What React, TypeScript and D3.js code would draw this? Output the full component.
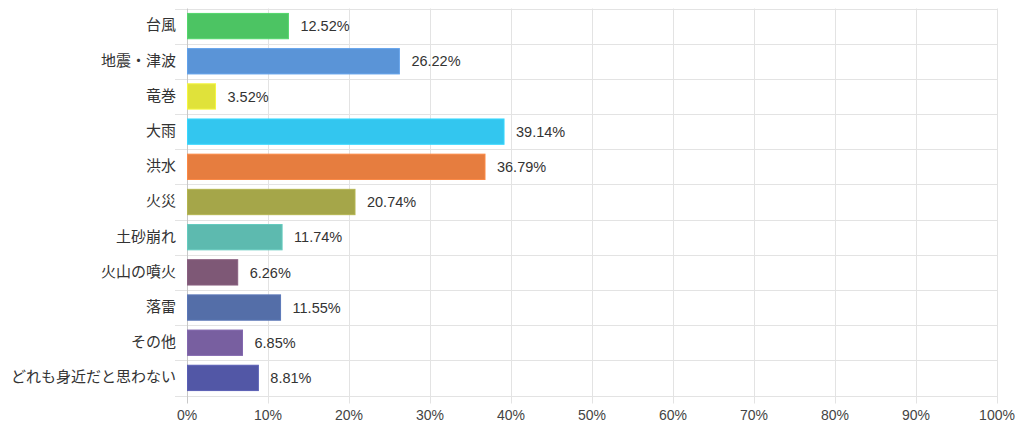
import React from "react";
import * as d3 from "d3";

const categories = [
  "台風",
  "地震・津波",
  "竜巻",
  "大雨",
  "洪水",
  "火災",
  "土砂崩れ",
  "火山の噴火",
  "落雷",
  "その他",
  "どれも身近だと思わない",
];
const values = [12.52, 26.22, 3.52, 39.14, 36.79, 20.74, 11.74, 6.26, 11.55, 6.85, 8.81];
const colors = [
  "#4cc463",
  "#5a94d7",
  "#e0e23a",
  "#33c6ef",
  "#e67d3f",
  "#a5a649",
  "#5dbaaf",
  "#7e5876",
  "#546ea8",
  "#785fa0",
  "#5257a6",
];
const xTicks = [0, 10, 20, 30, 40, 50, 60, 70, 80, 90, 100];

const W = 1024;
const H = 428;
const left = 187;
const right = 997;
const top = 8.5;
const bottom = 395.5;
const font = "'Liberation Sans', Arial, 'Noto Sans CJK JP', sans-serif";
const jpFont = "'Noto Sans CJK JP', 'Liberation Sans', sans-serif";

export default function App() {
  const x = d3.scaleLinear().domain([0, 100]).range([left, right]);
  const y = d3.scaleBand<string>().domain(categories).range([top, bottom]);
  const bw = y.bandwidth();
  const barH = bw * 0.72;
  const boundaries = categories.map((c) => y(c)!).concat([bottom]);

  return (
    <svg
      width={W}
      height={H}
      style={{ position: "absolute", left: 0, top: 0, background: "#fff" }}
    >
      {/* horizontal grid lines */}
      {boundaries.map((b, i) => (
        <line
          key={"h" + i}
          x1={left - 12}
          x2={right}
          y1={Math.round(b) + 0.5}
          y2={Math.round(b) + 0.5}
          stroke="#e3e3e3"
          strokeWidth={1}
        />
      ))}
      {/* vertical grid lines */}
      {xTicks.map((t) => (
        <line
          key={"v" + t}
          x1={Math.round(x(t)) + 0.5}
          x2={Math.round(x(t)) + 0.5}
          y1={top}
          y2={bottom + 8}
          stroke={t === 0 ? "#c8c8c8" : "#e3e3e3"}
          strokeWidth={1}
        />
      ))}
      {/* bars */}
      {categories.map((c, i) => {
        const yc = y(c)! + bw / 2;
        const w = x(values[i]) - x(0);
        return (
          <g key={c}>
            <rect
              x={x(0) + 0.5}
              y={yc - barH / 2}
              width={w - 0.5}
              height={barH}
              fill={colors[i]}
              stroke={d3.color(colors[i])!.brighter(0.25).formatHex()}
              strokeWidth={1}
            />
            <text
              x={x(values[i]) + 12}
              y={yc}
              dy="0.36em"
              fontFamily={font}
              fontSize={14.5}
              fill="#333"
            >
              {values[i].toFixed(2) + "%"}
            </text>
            <text
              x={left - 11}
              y={yc - 1}
              dy="0.36em"
              textAnchor="end"
              fontFamily={jpFont}
              fontSize={15}
              fill="#333"
            >
              {c}
            </text>
          </g>
        );
      })}
      {/* x tick labels */}
      {xTicks.map((t) => (
        <text
          key={"t" + t}
          x={x(t)}
          y={415}
          dy="0.36em"
          textAnchor="middle"
          fontFamily={font}
          fontSize={14}
          fill="#444"
        >
          {t + "%"}
        </text>
      ))}
    </svg>
  );
}
